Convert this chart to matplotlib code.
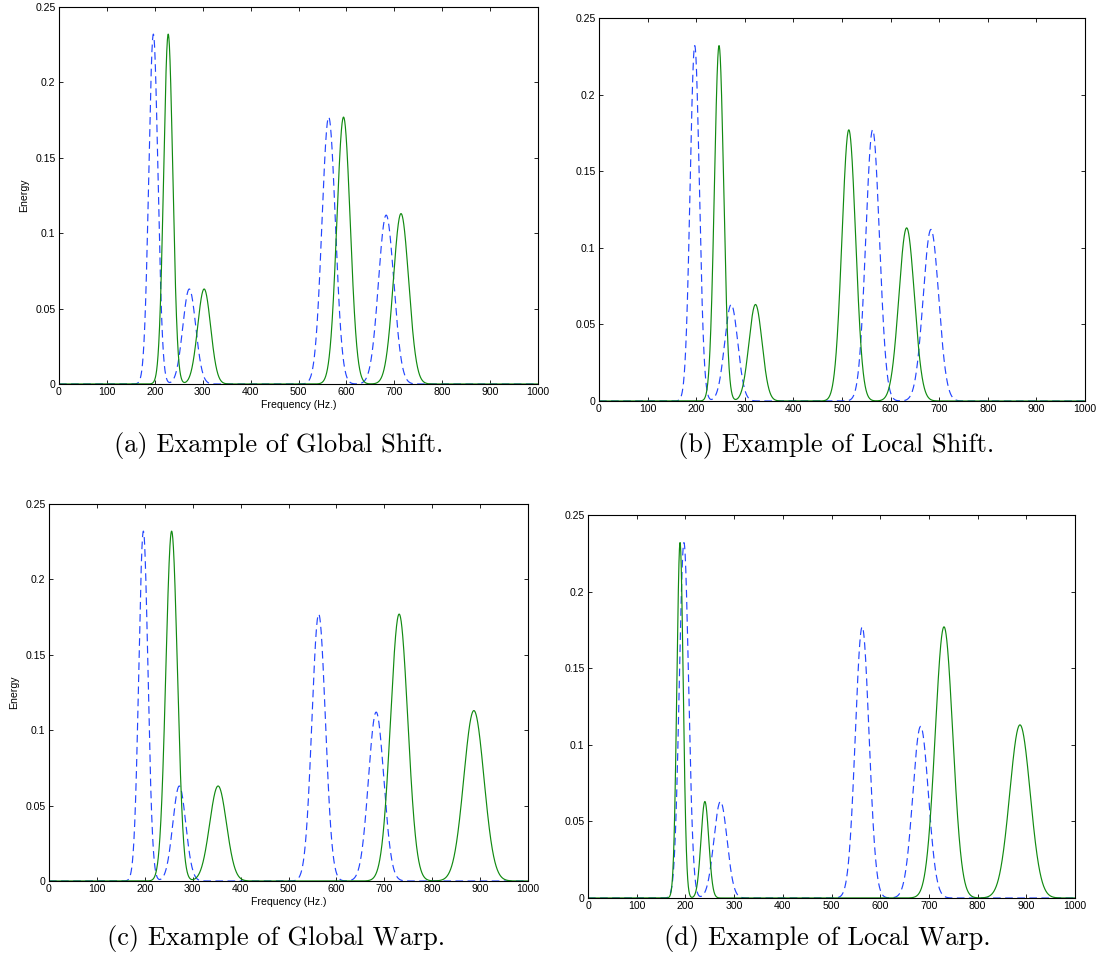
import numpy as np
import matplotlib
matplotlib.use("Agg")
import matplotlib.pyplot as plt

plt.rcParams['font.family'] = ['Liberation Sans', 'DejaVu Sans']
plt.rcParams['lines.scale_dashes'] = False

# 频率轴
freq = np.linspace(0, 1000, 4001)

# 原始谱峰（蓝色虚线）：中心、幅值、宽度
ref_centers = [197, 272, 563, 683]
ref_heights = [0.232, 0.063, 0.177, 0.112]
ref_widths = [9.5, 13.5, 14.0, 16.0]

# 变换后的谱峰（绿色实线）
gshift_centers = [228, 303, 594, 714]
gshift_heights = [0.232, 0.063, 0.177, 0.113]
gshift_widths = [9.5, 13.5, 14.0, 16.0]

lshift_centers = [247, 322, 514, 633]
lshift_heights = [0.232, 0.063, 0.177, 0.113]
lshift_widths = [9.5, 13.5, 14.0, 16.0]

gwarp_centers = [256, 353, 731, 887]
gwarp_heights = [0.232, 0.063, 0.177, 0.113]
gwarp_widths = [12.0, 17.5, 18.0, 21.0]

lwarp_centers = [189, 240, 731, 887]
lwarp_heights = [0.232, 0.063, 0.177, 0.113]
lwarp_widths = [6.5, 8.0, 18.0, 21.0]

captions = ['(a) Example of Global Shift.', '(b) Example of Local Shift.',
            '(c) Example of Global Warp.', '(d) Example of Local Warp.']

xticks = list(range(0, 1001, 100))
yticks = [0, 0.05, 0.1, 0.15, 0.2, 0.25]
ytick_labels = ['0', '0.05', '0.1', '0.15', '0.2', '0.25']


def spectrum(centers, heights, widths):
    s = np.zeros_like(freq)
    for c, h, w in zip(centers, heights, widths):
        s += h * np.exp(-0.5 * ((freq - c) / w) ** 2)
    return s


W, H = 1104, 960
fig = plt.figure(figsize=(W / 100, H / 100), dpi=100)

# 子图位置（像素）：左、右、上、下
boxes = [(59, 538, 7, 384), (599, 1085, 18, 401),
         (49, 528, 504, 881), (588, 1075, 515, 898)]
caption_pos = [(279, 445), (836, 445), (276, 938), (827, 938)]
targets = [(gshift_centers, gshift_heights, gshift_widths),
           (lshift_centers, lshift_heights, lshift_widths),
           (gwarp_centers, gwarp_heights, gwarp_widths),
           (lwarp_centers, lwarp_heights, lwarp_widths)]

ref = spectrum(ref_centers, ref_heights, ref_widths)

for i, (l, r, t, b) in enumerate(boxes):
    ax = fig.add_axes([l / W, 1 - b / H, (r - l) / W, (b - t) / H])
    ax.plot(freq, ref, color='#2446ff', lw=0.85, linestyle=(0, (5.5, 3.2)))
    ax.plot(freq, spectrum(*targets[i]), color='#118a11', lw=0.85)
    ax.set_xlim(0, 1000)
    ax.set_ylim(0, 0.25)
    ax.set_xticks(xticks)
    ax.set_yticks(yticks)
    ax.set_yticklabels(ytick_labels)
    ax.tick_params(direction='in', top=True, right=True, length=3,
                   width=0.6, labelsize=7.6, pad=2.5)
    for sp in ax.spines.values():
        sp.set_linewidth(0.8)
    if i in (0, 2):
        ax.set_xlabel('Frequency (Hz.)', fontsize=7.6, labelpad=2)
        ax.set_ylabel('Energy', fontsize=7.6, labelpad=4)
    cx, cy = caption_pos[i]
    fig.text(cx / W, 1 - cy / H, captions[i], family='cmr10', fontsize=19,
             ha='center', va='center')

fig.savefig('out.png', dpi=100)
